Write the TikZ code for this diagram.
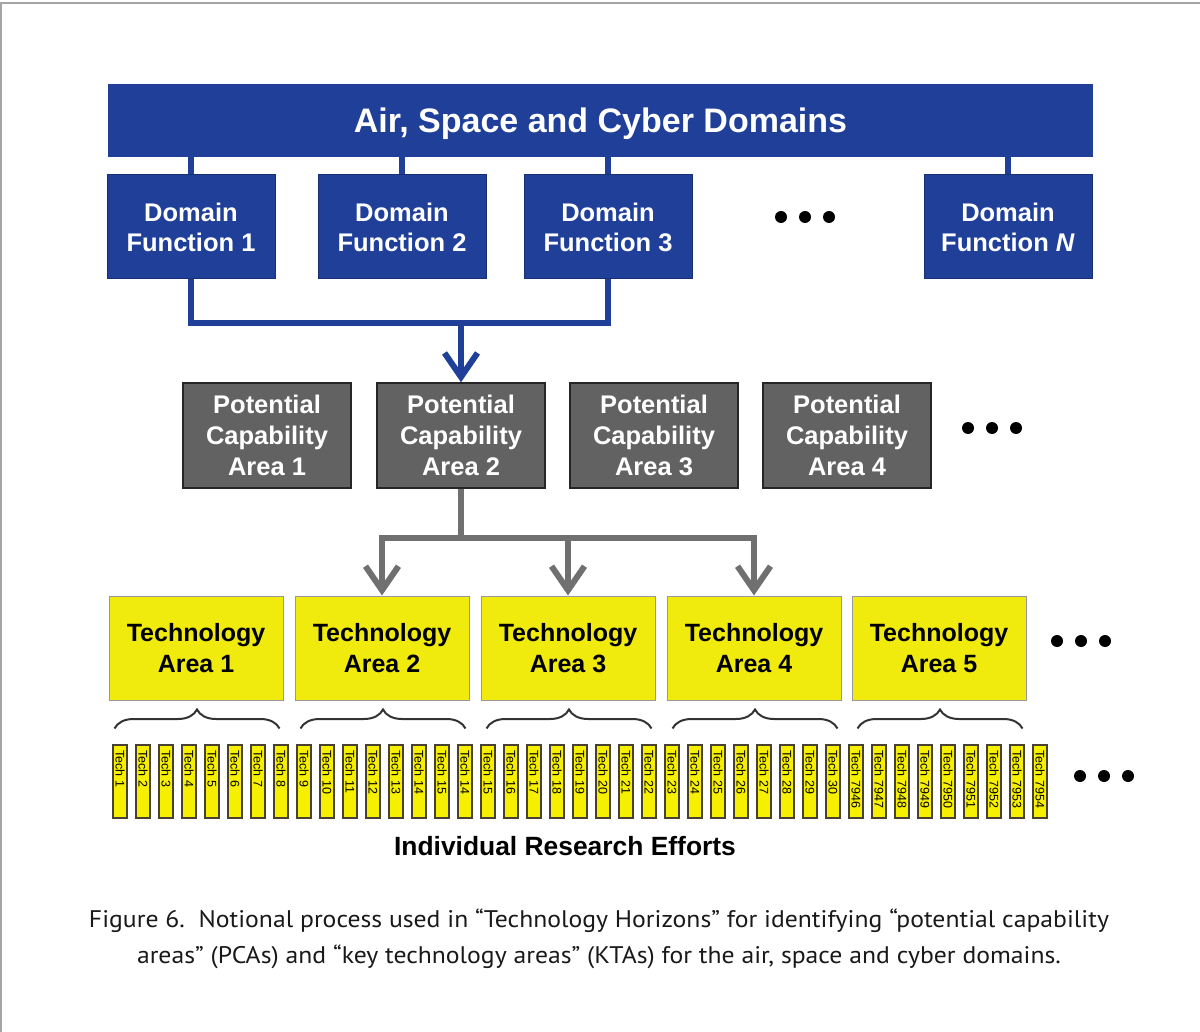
\documentclass[tikz,border=0pt]{standalone}
\usepackage{fontspec}
\setmainfont{Liberation Sans}
\newfontfamily\capfont[FakeStretch=1.07]{PT Sans}
\usetikzlibrary{positioning}
\usetikzlibrary{arrows.meta,decorations.pathreplacing}

\definecolor{dfblue}{RGB}{31,63,153}
\definecolor{pcagray}{RGB}{98,98,98}
\definecolor{linkgray}{RGB}{112,112,112}
\definecolor{tayellow}{RGB}{240,235,12}
\definecolor{baryellow}{RGB}{246,240,0}
\definecolor{barline}{RGB}{72,64,48}
\definecolor{framegray}{RGB}{165,165,165}

\tikzset{
  banner/.style={rectangle,fill=dfblue,text=white,minimum width=985pt,minimum height=73pt,
    inner sep=0pt,text height=24pt,text depth=0pt,font=\bfseries\fontsize{34}{36}\selectfont},
  dfbox/.style={rectangle,fill=dfblue,draw=dfblue!75!black,line width=1pt,text=white,
    minimum width=168pt,minimum height=104pt,inner sep=0pt,align=center,
    font=\bfseries\fontsize{25.5}{30}\selectfont},
  pcabox/.style={rectangle,fill=pcagray,draw=black!85,line width=1.5pt,text=white,
    minimum width=168pt,minimum height=105pt,inner sep=0pt,align=center,
    font=\bfseries\fontsize{25.5}{31}\selectfont},
  tabox/.style={rectangle,fill=tayellow,draw=black!40,line width=1pt,text=black,
    minimum width=174pt,minimum height=104pt,inner sep=0pt,align=center,
    font=\bfseries\fontsize{25}{31}\selectfont},
  techbar/.style={rectangle,rotate=-90,fill=baryellow,draw=barline,line width=1.4pt,
    minimum width=73pt,minimum height=14pt,inner sep=0pt,text width=63pt,align=left,
    font=\fontsize{12.5}{13}\selectfont},
  bluelink/.style={draw=dfblue,line width=6pt,line join=miter},
  graylink/.style={draw=linkgray,line width=6pt,line join=miter},
  vtip/.style={-{Straight Barb[length=24pt,width=33pt]}},
  tabrace/.style={draw=black!80,line width=2pt,decorate,decoration={brace,amplitude=19pt}}
}

\begin{document}
\begin{tikzpicture}[x=1pt,y=-1pt,on grid]
\useasboundingbox (0,0) rectangle (1200,1032);
\draw[framegray,line width=1.5pt] (1,1032) -- (1,3) -- (1200,3);

  \node[banner]		(dom)	at (600.5,120.5)	{Air, Space and Cyber Domains};

  \node[dfbox]		(df1)	at (191,227)		{Domain\\Function 1};
  \node[dfbox]		(df2)	[right=211pt of df1]	{Domain\\Function 2};
  \node[dfbox]		(df3)	[right=206pt of df2]	{Domain\\Function 3};
  \node[dfbox]		(dfn)	[right=400pt of df3]	{Domain\\Function \textit{N}};

  \node[pcabox]		(pca1)	at (267,435.5)		{Potential\\Capability\\Area 1};
  \node[pcabox]		(pca2)	[right=194pt of pca1]	{Potential\\Capability\\Area 2};
  \node[pcabox]		(pca3)	[right=193pt of pca2]	{Potential\\Capability\\Area 3};
  \node[pcabox]		(pca4)	[right=193pt of pca3]	{Potential\\Capability\\Area 4};

  \node[tabox]		(ta1)	at (196,648)		{Technology\\Area 1};
  \node[tabox]		(ta2)	[right=186pt of ta1]	{Technology\\Area 2};
  \node[tabox]		(ta3)	[right=186pt of ta2]	{Technology\\Area 3};
  \node[tabox]		(ta4)	[right=186pt of ta3]	{Technology\\Area 4};
  \node[tabox]		(ta5)	[right=185pt of ta4]	{Technology\\Area 5};

  % ellipsis dots
  \foreach \dx in {-24,0,24} {
    \fill ({805+\dx},217) circle (6pt);
    \fill ({992+\dx},428) circle (6pt);
    \fill ({1081+\dx},641) circle (6pt);
    \fill ({1104+\dx},776) circle (6pt);
  }

  % domain functions hang from the banner
  \foreach \d in {df1,df2,df3,dfn}
    \draw[bluelink] (dom.south -| \d.north) -- (\d.north);

  \draw[bluelink] (df1.south) -- ++(0,44) coordinate (bj) -| (df3.south);
  \draw[bluelink,vtip] (bj -| pca2.north) -- (pca2.north);

  \draw[graylink] (pca2.south) -- ++(0,49) coordinate (gj);
  \draw[graylink] ([xshift=-3pt]ta2.north |- gj) -- ([xshift=3pt]ta4.north |- gj);
  \foreach \t in {ta2,ta3,ta4}
    \draw[graylink,vtip] (\t.north |- gj) -- (\t.north);

  \foreach \t in {ta1,ta2,ta3,ta4,ta5}
    \draw[tabrace] ([xshift=6pt,yshift=-28pt]\t.south west) -- ([xshift=-4pt,yshift=-28pt]\t.south east);

  \foreach \lab [count=\i from 0] in {1,2,3,4,5,6,7,8,9,10,11,12,13,14,15,14,15,16,17,18,19,20,21,22,
      23,24,25,26,27,28,29,30,7946,7947,7948,7949,7950,7951,7952,7953,7954}
    \node[techbar] (tech\i) at ({120+23*\i},781.5) {Tech \lab};

  \node[font=\bfseries\fontsize{26.4}{28}\selectfont] (ire) at (565,846) {Individual Research Efforts};

  \node[align=center,text=black!90,font=\capfont\fontsize{24}{36}\selectfont] (cap) at (599,939)
    {Figure 6.\ \ Notional process used in “Technology Horizons” for identifying “potential capability\\
     areas” (PCAs) and “key technology areas” (KTAs) for the air, space and cyber domains.};
\end{tikzpicture}
\end{document}
